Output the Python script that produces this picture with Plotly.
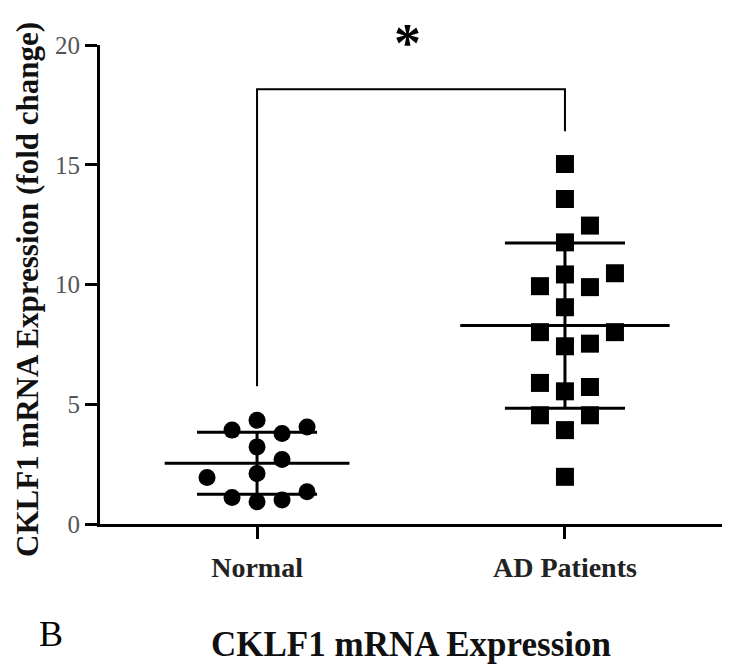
import numpy as np
import plotly.graph_objects as go

# ---------------- data ----------------
groups = ["Normal", "AD Patients"]
normal_values = [0.93, 1.00, 1.11, 1.35, 1.94, 2.11, 2.69, 3.22, 3.78, 3.92, 4.05, 4.33]
ad_values = [1.97, 3.92, 4.54, 4.54, 5.54, 5.72, 5.89, 7.42, 7.53, 8.01, 8.01,
             9.05, 9.89, 9.93, 10.42, 10.47, 11.76, 12.46, 13.57, 15.03]
y_ticks = [0, 5, 10, 15, 20]
y_title = "CKLF1 mRNA Expression (fold change)"
x_title = "CKLF1 mRNA Expression"
panel_label = "B"
sig_label = "*"
bracket_top = 18.15
bracket_left_end = 5.75
bracket_right_end = 16.4

# ---------------- layout helpers ----------------
# the page body adds an 8px offset, so the figure is 8px smaller than the window
W, H = 722, 664
ML, MR, MT, MB = 92, 8, 37, 148
PW = W - ML - MR
PH = H - MT - MB
x_range = [0.49, 2.51]
px_per_x = PW / (x_range[1] - x_range[0])
slot_w = 25 / px_per_x          # horizontal spacing of swarm columns
collide = 1.05                  # vertical clearance (data units) within a column
slot_order = [0, 1, -1, 2, -2, 3, -3]


def swarm(values, center):
    placed = []
    xs = [None] * len(values)
    order = np.argsort(values, kind="stable")
    for i in order:
        v = values[i]
        for s in slot_order:
            if all(not (ps == s and abs(pv - v) < collide) for ps, pv in placed):
                placed.append((s, v))
                xs[i] = center + s * slot_w
                break
    return xs


def px_x(p):  # window pixel -> paper x
    return (p - 8 - ML) / PW


def px_y(p):  # window pixel -> paper y
    return (8 + MT + PH - p) / PH


serif = "Liberation Serif"
fig = go.Figure()

positions = [1, 2]
data_sets = [normal_values, ad_values]
symbols = ["circle", "square"]
msizes = [17, 18]
mean_half = [0.30, 0.34]
sd_half = [0.195, 0.195]

for pos, vals, sym, ms, mh, sh in zip(positions, data_sets, symbols, msizes, mean_half, sd_half):
    arr = np.array(vals)
    m = arr.mean()
    sd = arr.std(ddof=1)
    fig.add_trace(go.Scatter(
        x=swarm(vals, pos), y=vals, mode="markers",
        marker=dict(symbol=sym, size=ms, color="black", line=dict(width=0)),
        showlegend=False, hoverinfo="y", cliponaxis=False))
    # mean line
    fig.add_trace(go.Scatter(x=[pos - mh, pos + mh], y=[m, m], mode="lines",
                             line=dict(color="black", width=3), showlegend=False,
                             hoverinfo="skip"))
    # SD whiskers
    fig.add_trace(go.Scatter(x=[pos - sh, pos + sh, None, pos - sh, pos + sh, None, pos, pos],
                             y=[m + sd, m + sd, None, m - sd, m - sd, None, m - sd, m + sd],
                             mode="lines", line=dict(color="black", width=3),
                             showlegend=False, hoverinfo="skip"))

# significance bracket
fig.add_trace(go.Scatter(
    x=[positions[0], positions[0], positions[1], positions[1]],
    y=[bracket_left_end, bracket_top, bracket_top, bracket_right_end],
    mode="lines", line=dict(color="black", width=2), showlegend=False,
    hoverinfo="skip", cliponaxis=False))

fig.update_layout(
    width=W, height=H,
    margin=dict(l=ML, r=MR, t=MT, b=MB),
    paper_bgcolor="white", plot_bgcolor="white",
    xaxis=dict(range=x_range, tickvals=positions, ticktext=groups,
               showline=True, linecolor="black", linewidth=3,
               ticks="outside", ticklen=12, tickwidth=3, tickcolor="black",
               showgrid=False, zeroline=False, ticklabelstandoff=4,
               tickfont=dict(family=serif, size=28, color="#222", weight="bold")),
    yaxis=dict(range=[0, 20], tickvals=y_ticks,
               showline=True, linecolor="black", linewidth=3,
               ticks="outside", ticklen=12, tickwidth=3, tickcolor="black",
               showgrid=False, zeroline=False,
               tickfont=dict(family=serif, size=25, color="#555")),
    annotations=[
        dict(text=y_title, textangle=-90, xref="paper", yref="paper",
             x=px_x(27), y=px_y(290), showarrow=False,
             xanchor="center", yanchor="middle",
             font=dict(family=serif, size=31, color="#111", weight="bold")),
        dict(text=x_title, xref="paper", yref="paper", x=px_x(411), y=px_y(644),
             showarrow=False, xanchor="center", yanchor="middle",
             font=dict(family=serif, size=35, color="#111", weight="bold")),
        dict(text=panel_label, xref="paper", yref="paper", x=px_x(51), y=px_y(634),
             showarrow=False, xanchor="center", yanchor="middle",
             font=dict(family=serif, size=36, color="black")),
        dict(text=sig_label, xref="x", yref="paper", x=1.49, y=px_y(43),
             showarrow=False, xanchor="center", yanchor="middle",
             font=dict(family=serif, size=54, color="black", weight="bold")),
    ],
)

fig.write_html("out.html")
